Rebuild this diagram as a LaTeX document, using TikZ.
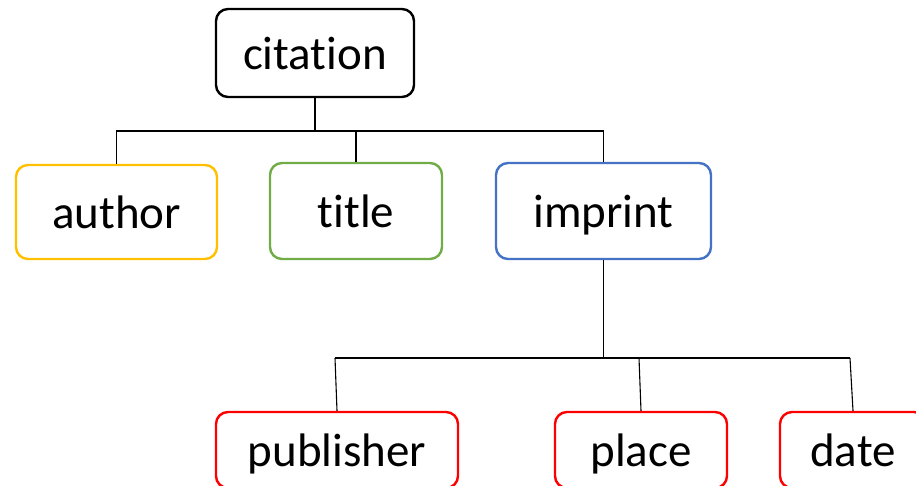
\documentclass[tikz,border=0pt]{standalone}
\usepackage{fontspec}
\setmainfont{Carlito}[Ligatures={NoCommon}]
\definecolor{cyellow}{HTML}{FFC000}
\definecolor{cgreen}{HTML}{70AD47}
\definecolor{cblue}{HTML}{4472C4}
\definecolor{cred}{HTML}{FF0000}
\begin{document}
\begin{tikzpicture}[x=1pt,y=-1pt,
  box/.style={draw, line width=2.4pt, rounded corners=12pt, fill=white,
    inner sep=0pt, text height=33.8pt, text depth=0pt, text=black,
    font=\fontsize{47}{56}\selectfont},
  link/.style={line width=1.1pt, black}]
\useasboundingbox (0,0) rectangle (916,486);
\clip (0,0) rectangle (916,486);

% top level
\node[box, draw=black, minimum width=198pt, minimum height=88pt] (citation) at (315,53) {citation};

% second level
\node[box, draw=cyellow, minimum width=201pt, minimum height=94pt] (author) at (116.5,212) {author};
\node[box, draw=cgreen, minimum width=172pt, minimum height=96pt] (title) at (356,211) {title};
\node[box, draw=cblue, minimum width=215pt, minimum height=96pt] (imprint) at (603.5,211) {imprint};

% third level
\node[box, draw=cred, minimum width=242pt, minimum height=76pt] (publisher) at (337,450) {publisher};
\node[box, draw=cred, minimum width=172pt, minimum height=76pt] (place) at (641,450) {place};
\node[box, draw=cred, minimum width=146pt, minimum height=76pt] (date) at (853,450) {date};

% connectors from citation
\coordinate (j1) at (315,131);
\draw[link] (citation.south) -- (j1);
\draw[link] (author.north) |- (j1) -| (imprint.north);
\draw[link] (title.north) -- (title.north |- j1);

% connectors from imprint
\coordinate (j2) at (603.5,358);
\coordinate (b1) at (335,358);
\coordinate (b2) at (639,358);
\coordinate (b3) at (850,358);
\draw[link] (imprint.south) -- (j2);
\draw[link] (b1) -- (b3);
\draw[link] (b1) -- (publisher.north);
\draw[link] (b2) -- (place.north);
\draw[link] (b3) -- (date.north);
\end{tikzpicture}
\end{document}
